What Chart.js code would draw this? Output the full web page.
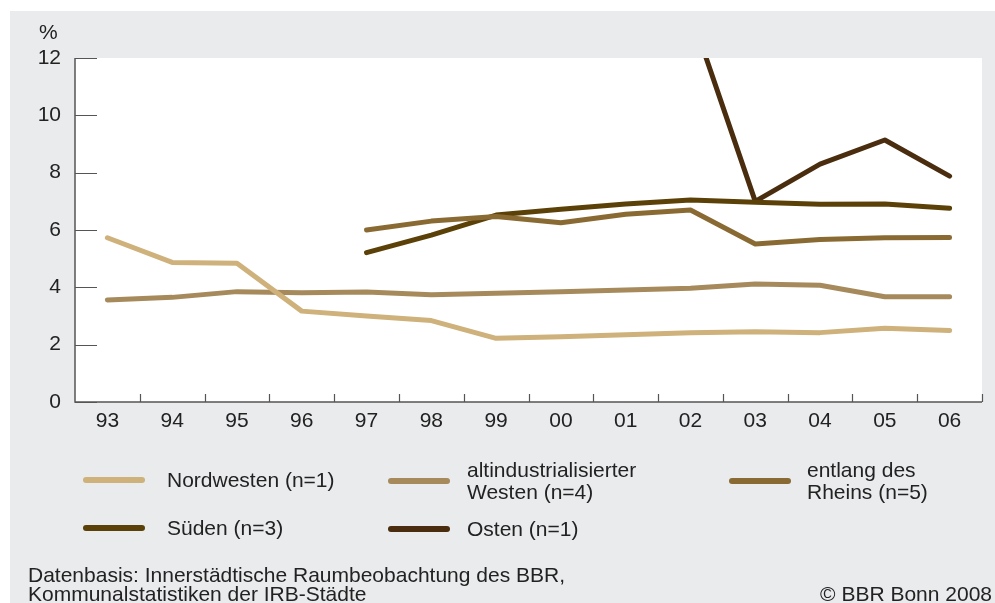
<!DOCTYPE html>
<html>
<head>
<meta charset="utf-8">
<script src="https://cdn.jsdelivr.net/npm/chart.js@4/dist/chart.umd.min.js"></script>
<style>
  html, body { margin: 0; padding: 0; background: #ffffff; }
  #wrap { position: relative; width: 995px; height: 603px; overflow: hidden; font-family: "Liberation Sans", Arial, sans-serif; color: #222; }
  #c { position: absolute; left: 0; top: 0; }
  .txt { position: absolute; font-size: 21px; line-height: 22px; color: #222; white-space: nowrap; }
  .sw { position: absolute; height: 6px; border-radius: 3px; }
</style>
</head>
<body>
<div id="wrap">
  <canvas id="c" width="995" height="603"></canvas>
  <div class="txt" style="left:39px; top:21px;">%</div>
  <div id="legend"></div>
  <div class="txt" style="left:28px; top:565px; line-height:19px;">Datenbasis: Innerstädtische Raumbeobachtung des BBR,<br>Kommunalstatistiken der IRB-Städte</div>
  <div class="txt" style="right:3px; top:584px; line-height:19px;">© BBR Bonn 2008</div>
</div>
<script>
// ---- data ----
const years = ["93","94","95","96","97","98","99","00","01","02","03","04","05","06"];
const nordwesten = [5.73, 4.87, 4.84, 3.17, 3.00, 2.84, 2.22, 2.28, 2.35, 2.42, 2.45, 2.42, 2.57, 2.49];
const altWesten  = [3.56, 3.65, 3.85, 3.81, 3.84, 3.74, 3.79, 3.85, 3.91, 3.97, 4.12, 4.07, 3.67, 3.67];
const rhein      = [null, null, null, null, 6.00, 6.31, 6.47, 6.25, 6.55, 6.70, 5.51, 5.67, 5.73, 5.74];
const sueden     = [null, null, null, null, 5.21, 5.82, 6.52, 6.72, 6.91, 7.05, 6.97, 6.90, 6.91, 6.76];
const osten      = [null, null, null, null, null, null, null, null, null, 13.6, 7.00, 8.30, 9.14, 7.88];
const seriesNames = [["Nordwesten (n=1)"], ["altindustrialisierter", "Westen (n=4)"], ["entlang des", "Rheins (n=5)"], ["Süden (n=3)"], ["Osten (n=1)"]];
const seriesColors = ["#ceb17b", "#a68a5c", "#8a6a33", "#5b4108", "#4a2d0e"];
const yTicks = [0, 2, 4, 6, 8, 10, 12];

const seriesData = [nordwesten, altWesten, rhein, sueden, osten];

// ---- legend (HTML, built from series arrays) ----
const legendPos = [
  {sx: 83, y: 480, tx: 167}, {sx: 388, y: 481, tx: 467}, {sx: 729, y: 481, tx: 807},
  {sx: 83, y: 528, tx: 167}, {sx: 388, y: 529, tx: 467}
];
const legendEl = document.getElementById('legend');
seriesNames.forEach((name, i) => {
  const p = legendPos[i];
  const sw = document.createElement('div');
  sw.className = 'sw';
  sw.style.left = p.sx + 'px';
  sw.style.width = '62px';
  sw.style.top = (p.y - 3) + 'px';
  sw.style.background = seriesColors[i];
  legendEl.appendChild(sw);
  const t = document.createElement('div');
  t.className = 'txt';
  t.style.left = p.tx + 'px';
  t.style.top = (p.y - 11 * name.length) + 'px';
  t.innerHTML = name.join('<br>');
  legendEl.appendChild(t);
});

// ---- plugin: panel background, white plot, inward tick marks ----
const decor = {
  id: 'decor',
  beforeDraw(chart) {
    const ctx = chart.ctx, a = chart.chartArea;
    ctx.save();
    ctx.fillStyle = '#eaebed';
    ctx.fillRect(10, 11, chart.width - 10, chart.height - 11);
    ctx.fillStyle = '#ffffff';
    ctx.fillRect(a.left, a.top, a.right - a.left, a.bottom - a.top);
    ctx.restore();
  },
  afterDraw(chart) {
    const ctx = chart.ctx, a = chart.chartArea;
    const ys = chart.scales.y, xs = chart.scales.x;
    ctx.save();
    ctx.strokeStyle = '#555';
    ctx.lineWidth = 1.5;
    ctx.beginPath();
    ctx.moveTo(a.left, a.top); ctx.lineTo(a.left, a.bottom); ctx.lineTo(a.right, a.bottom);
    ctx.stroke();
    ctx.lineWidth = 1.2;
    ctx.beginPath();
    ys.ticks.forEach((t, i) => {
      const y = Math.round(ys.getPixelForTick(i)) + 0.5;
      ctx.moveTo(a.left, y); ctx.lineTo(a.left + 22, y);
    });
    const half = (xs.getPixelForValue(1) - xs.getPixelForValue(0)) / 2;
    for (let i = 0; i < years.length; i++) {
      const x = Math.round(xs.getPixelForValue(i) + half) + 0.5;
      ctx.moveTo(x, a.bottom); ctx.lineTo(x, a.bottom - 8);
    }
    ctx.stroke();
    ctx.restore();
  }
};

new Chart(document.getElementById('c'), {
  type: 'line',
  data: {
    labels: years,
    datasets: seriesData.map((d, i) => ({
      label: seriesNames[i].join(' '),
      data: d,
      borderColor: seriesColors[i],
      backgroundColor: seriesColors[i],
      borderWidth: 5,
      borderCapStyle: 'round',
      borderJoinStyle: 'round',
      pointRadius: 0,
      tension: 0,
      clip: 0
    }))
  },
  options: {
    responsive: false,
    animation: false,
    events: [],
    layout: { padding: { top: 58, right: 13, left: 0, bottom: 0 } },
    plugins: { legend: { display: false }, tooltip: { enabled: false } },
    scales: {
      x: {
        offset: true,
        grid: { display: false, drawTicks: false },
        border: { display: false },
        ticks: { color: '#222', font: { family: '"Liberation Sans", Arial, sans-serif', size: 21 }, padding: 7, maxRotation: 0, autoSkip: false },
        afterFit(s) { s.height = 201; }
      },
      y: {
        min: 0, max: 12,
        afterBuildTicks(s) { s.ticks = yTicks.map(v => ({ value: v })); },
        grid: { display: false, drawTicks: false },
        border: { display: false },
        ticks: { color: '#222', font: { family: '"Liberation Sans", Arial, sans-serif', size: 21 }, padding: 14 },
        afterFit(s) { s.width = 75; }
      }
    }
  },
  plugins: [decor]
});
</script>
</body>
</html>
